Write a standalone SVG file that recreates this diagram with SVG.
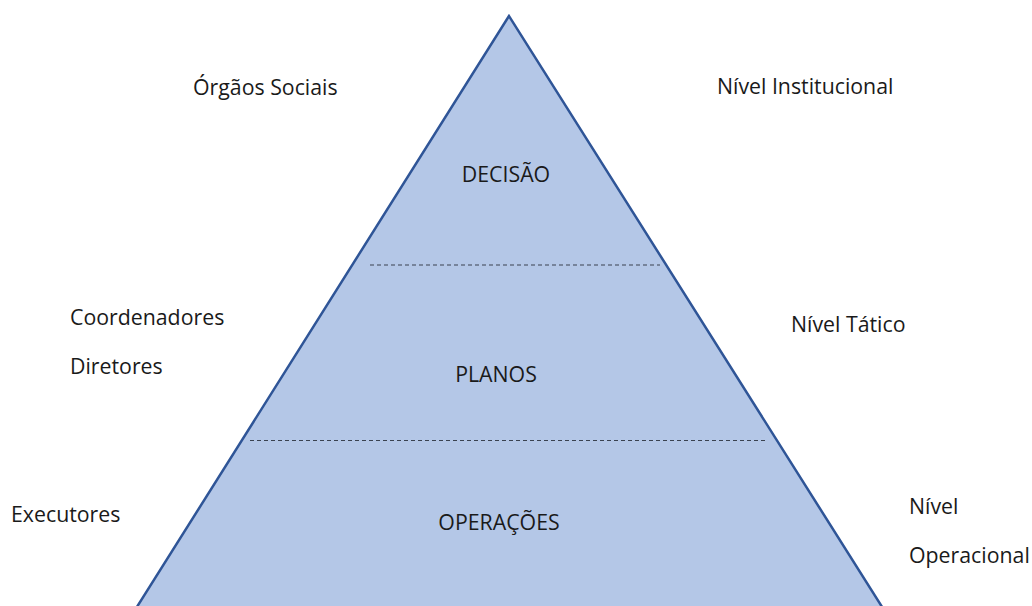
<svg xmlns="http://www.w3.org/2000/svg" width="1032" height="606" viewBox="0 0 1032 606">
<style>
text{font-family:"Open Sans","Liberation Sans",sans-serif;font-size:21.3px;fill:#1a1a1a}
.c{text-anchor:middle}
.dash{stroke:#3a4250;stroke-width:1.2;stroke-dasharray:4 3;fill:none}
</style>
<rect width="1032" height="606" fill="#ffffff"/>
<g id="pyramid">
<polygon points="509,16 135,610 884,610" fill="#b4c7e7" stroke="#2f5597" stroke-width="2.5" stroke-linejoin="miter"/>
</g>
<g id="connectors">
<line class="dash" x1="370" y1="265" x2="660" y2="265"/>
<line class="dash" x1="250" y1="440.5" x2="766" y2="440.5"/>
</g>
<g id="decisao"><text class="c" x="506" y="182">DECISÃO</text></g>
<g id="planos"><text class="c" x="496" y="382">PLANOS</text></g>
<g id="operacoes"><text class="c" x="499" y="530">OPERAÇÕES</text></g>
<g id="orgaos"><text x="193" y="95">Órgãos Sociais</text></g>
<g id="institucional"><text x="717" y="94">Nível Institucional</text></g>
<g id="coordenadores"><text x="70" y="325">Coordenadores</text><text x="70" y="374">Diretores</text></g>
<g id="tatico"><text x="791" y="332">Nível Tático</text></g>
<g id="executores"><text x="11" y="522">Executores</text></g>
<g id="operacional"><text x="909" y="514">Nível</text><text x="909" y="563">Operacional</text></g>
</svg>
